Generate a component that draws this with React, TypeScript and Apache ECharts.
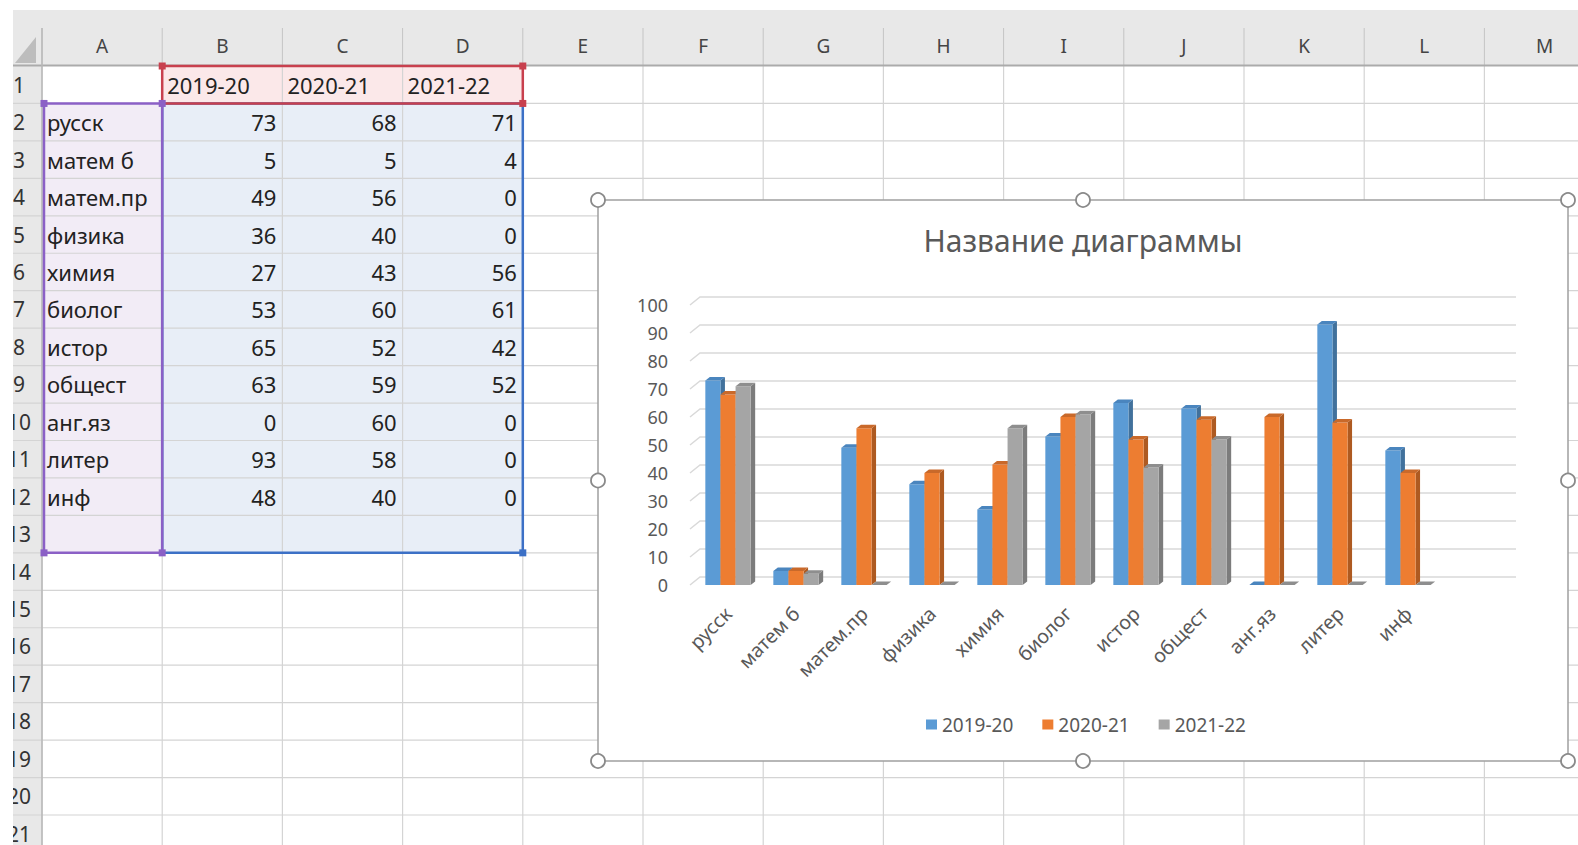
import React, { useEffect, useRef } from 'react';
import * as echarts from 'echarts';

// ---------- data ----------
const categories = ['русск', 'матем б', 'матем.пр', 'физика', 'химия', 'биолог', 'истор', 'общест', 'анг.яз', 'литер', 'инф'];
const seriesNames = ['2019-20', '2020-21', '2021-22'];
const values2019 = [73, 5, 49, 36, 27, 53, 65, 63, 0, 93, 48];
const values2020 = [68, 5, 56, 40, 43, 60, 52, 59, 60, 58, 40];
const values2021 = [71, 4, 0, 0, 56, 61, 42, 52, 0, 0, 0];
const yTicks = [0, 10, 20, 30, 40, 50, 60, 70, 80, 90, 100];
const columnLetters = ['A', 'B', 'C', 'D', 'E', 'F', 'G', 'H', 'I', 'J', 'K', 'L', 'M'];
const chartTitle = 'Название диаграммы';

const seriesValues = [values2019, values2020, values2021];

// ---------- styles ----------
const W = 1578;
const H = 845;
const ROW_H = 37.45;
const HEAD_B = 66;
const COL_X0 = 42;
const COL_W = 120.2;
const FONT = '"Noto Sans", "Open Sans", sans-serif';

const frontColors = ['#5B9BD5', '#ED7D31', '#A5A5A5'];
const sideColors = ['#41719C', '#AE5A21', '#7C7C7C'];
const topColors = ['#4A85BE', '#C9692A', '#8E8E8E'];

const colX = (k: number) => COL_X0 + k * COL_W;
const rowTop = (r: number) => HEAD_B + (r - 1) * ROW_H;

const CHART = { x: 598, y: 200, w: 970, h: 561 };

function sheetElements(): any[] {
  const els: any[] = [];
  const Z = -20;
  els.push({ type: 'rect', z: Z, shape: { x: 13, y: 10, width: W - 13, height: HEAD_B - 10 }, style: { fill: '#E8E8E8' } });
  els.push({ type: 'rect', z: Z, shape: { x: 13, y: HEAD_B, width: COL_X0 - 13, height: H - HEAD_B }, style: { fill: '#E8E8E8' } });
  els.push({ type: 'rect', z: Z, shape: { x: colX(1), y: rowTop(1), width: colX(4) - colX(1), height: ROW_H }, style: { fill: '#FBE8E9' } });
  els.push({ type: 'rect', z: Z, shape: { x: colX(0), y: rowTop(2), width: COL_W, height: rowTop(14) - rowTop(2) }, style: { fill: '#F2ECF6' } });
  els.push({ type: 'rect', z: Z, shape: { x: colX(1), y: rowTop(2), width: colX(4) - colX(1), height: rowTop(14) - rowTop(2) }, style: { fill: '#E8EEF7' } });
  for (let k = 0; k <= 13; k++) {
    els.push({ type: 'line', z: Z + 1, shape: { x1: colX(k), y1: 28, x2: colX(k), y2: HEAD_B }, style: { stroke: '#C4C4C4', lineWidth: 1 } });
    els.push({ type: 'line', z: Z + 1, shape: { x1: colX(k), y1: HEAD_B, x2: colX(k), y2: H }, style: { stroke: '#D4D4D4', lineWidth: 1.2 } });
  }
  for (let r = 2; r <= 23; r++) {
    els.push({ type: 'line', z: Z + 1, shape: { x1: 13, y1: rowTop(r), x2: W, y2: rowTop(r) }, style: { stroke: '#D4D4D4', lineWidth: 1.2 } });
  }
  els.push({ type: 'line', z: Z + 2, shape: { x1: 13, y1: HEAD_B - 0.5, x2: W, y2: HEAD_B - 0.5 }, style: { stroke: '#ABABAB', lineWidth: 2 } });
  els.push({ type: 'line', z: Z + 2, shape: { x1: COL_X0, y1: 28, x2: COL_X0, y2: H }, style: { stroke: '#B8B8B8', lineWidth: 1.5 } });
  els.push({ type: 'polygon', z: Z + 2, shape: { points: [[15, 63], [36, 37], [36, 63]] }, style: { fill: '#BDBDBD' } });
  columnLetters.forEach((c, k) => {
    els.push({ type: 'text', z: Z + 3, x: colX(k) + COL_W / 2, y: 46, style: { text: c, font: `19px ${FONT}`, fill: '#444444', align: 'center', verticalAlign: 'middle' } });
  });
  for (let r = 1; r <= 21; r++) {
    els.push({ type: 'text', z: Z + 3, x: 19, y: rowTop(r) + ROW_H / 2, style: { text: String(r), font: `21px ${FONT}`, fill: '#333333', align: 'center', verticalAlign: 'middle' } });
  }
  seriesNames.forEach((n, s) => {
    els.push({ type: 'text', z: Z + 3, x: colX(1 + s) + 5, y: rowTop(1) + ROW_H / 2, style: { text: n, font: `22px ${FONT}`, fill: '#222222', align: 'left', verticalAlign: 'middle' } });
  });
  categories.forEach((c, i) => {
    const yc = rowTop(2 + i) + ROW_H / 2;
    els.push({ type: 'text', z: Z + 3, x: colX(0) + 5, y: yc, style: { text: c, font: `22px ${FONT}`, fill: '#222222', align: 'left', verticalAlign: 'middle' } });
    seriesValues.forEach((vals, s) => {
      els.push({ type: 'text', z: Z + 3, x: colX(2 + s) - 6, y: yc, style: { text: String(vals[i]), font: `22px ${FONT}`, fill: '#222222', align: 'right', verticalAlign: 'middle' } });
    });
  });
  const box = (x1: number, y1: number, x2: number, y2: number, color: string) => {
    els.push({ type: 'polygon', z: Z + 4, shape: { points: [[x1, y1], [x2, y1], [x2, y2], [x1, y2]] }, style: { stroke: color, lineWidth: 2.5, fill: null } });
  };
  const handle = (x: number, y: number, color: string) => {
    els.push({ type: 'rect', z: Z + 5, shape: { x: x - 3.5, y: y - 3.5, width: 7, height: 7 }, style: { fill: color } });
  };
  const blue = '#3C70C6', purple = '#8B60C6', red = '#C8404E';
  box(colX(1), rowTop(2), colX(4), rowTop(14), blue);
  box(COL_X0 + 2, rowTop(2), colX(1), rowTop(14), purple);
  box(colX(1), rowTop(1), colX(4), rowTop(2), red);
  handle(colX(4), rowTop(14), blue);
  handle(colX(1), rowTop(14), purple);
  handle(COL_X0 + 2, rowTop(14), purple);
  handle(COL_X0 + 2, rowTop(2), purple);
  handle(colX(1), rowTop(2), purple);
  handle(colX(4), rowTop(2), red);
  handle(colX(1), rowTop(1), red);
  handle(colX(4), rowTop(1), red);
  els.push({ type: 'rect', z: Z + 6, shape: { x: 0, y: 0, width: 13, height: H }, style: { fill: '#FFFFFF' } });
  els.push({ type: 'rect', z: Z + 6, shape: { x: 0, y: 0, width: W, height: 10 }, style: { fill: '#FFFFFF' } });
  els.push({ type: 'rect', z: -5, shape: { x: CHART.x, y: CHART.y, width: CHART.w, height: CHART.h }, style: { fill: '#FFFFFF', stroke: '#A0A0A0', lineWidth: 1.5 } });
  const hx = [CHART.x, CHART.x + CHART.w / 2, CHART.x + CHART.w];
  const hy = [CHART.y, CHART.y + CHART.h / 2, CHART.y + CHART.h];
  hx.forEach((x, a) => hy.forEach((y, b) => {
    if (a === 1 && b === 1) return;
    els.push({ type: 'circle', z: 50, shape: { cx: x, cy: y, r: 7 }, style: { fill: '#FFFFFF', stroke: '#8A8A8A', lineWidth: 1.8 } });
  }));
  return els;
}

function barRenderer(s: number) {
  return (params: any, api: any) => {
    const i = api.value(0);
    const v = api.value(1);
    const base = api.coord([i, 0]);
    const top = api.coord([i, v]);
    const band = api.size([1, 0])[0];
    const bw = band / 4.5;
    const x0 = base[0] - 1.5 * bw + s * bw;
    const x1 = x0 + bw;
    const yb = base[1];
    const yt = top[1];
    const dx = 4.5;
    const dy = -3.5;
    return {
      type: 'group',
      children: [
        { type: 'polygon', shape: { points: [[x1, yt], [x1 + dx, yt + dy], [x1 + dx, yb + dy], [x1, yb]] }, style: { fill: sideColors[s] } },
        { type: 'rect', shape: { x: x0, y: yt, width: bw, height: yb - yt }, style: { fill: frontColors[s] } },
        { type: 'polygon', shape: { points: [[x0, yt], [x0 + dx, yt + dy], [x1 + dx, yt + dy], [x1, yt]] }, style: { fill: topColors[s] } },
      ],
    };
  };
}

export default function App() {
  const ref = useRef<HTMLDivElement>(null);
  useEffect(() => {
    if (!ref.current) return;
    const chart = echarts.init(ref.current, undefined, { renderer: 'svg' });
    const option: any = {
      animation: false,
      backgroundColor: '#FFFFFF',
      textStyle: { fontFamily: FONT },
      title: {
        text: chartTitle,
        left: 1078,
        top: 220,
        textAlign: 'center',
        textStyle: { fontSize: 30, fontWeight: 'normal', color: '#595959', fontFamily: FONT },
      },
      legend: {
        data: seriesNames,
        left: 921,
        top: 710,
        itemWidth: 11,
        itemHeight: 10,
        itemGap: 29,
        icon: 'rect',
        textStyle: { fontSize: 19, color: '#595959', fontFamily: FONT },
      },
      grid: { left: 694, top: 305, width: 816, height: 280, containLabel: false },
      xAxis: {
        type: 'category',
        data: [...categories, ''],
        boundaryGap: true,
        axisLine: { show: false },
        axisTick: { show: false },
        splitLine: { show: false },
        axisLabel: { interval: 0, rotate: 45, fontSize: 19.5, color: '#595959', margin: 25, fontFamily: FONT },
      },
      yAxis: {
        type: 'value',
        min: 0,
        max: 100,
        interval: 10,
        axisLine: { show: false },
        axisTick: { show: false },
        splitLine: { show: false },
        axisLabel: { fontSize: 18, color: '#595959', margin: 26, fontFamily: FONT },
      },
      graphic: { elements: sheetElements() },
      series: [
        {
          type: 'custom',
          name: 'gridlines',
          z: 1,
          silent: true,
          data: yTicks.map((t) => [0, t]),
          encode: { x: 0, y: 1 },
          renderItem: (params: any, api: any) => {
            const cs = params.coordSys;
            const p = api.coord([0, api.value(1)]);
            return {
              type: 'polyline',
              shape: { points: [[cs.x - 4, p[1]], [cs.x + 6, p[1] - 8], [cs.x + cs.width + 6, p[1] - 8]] },
              style: { stroke: '#D9D9D9', lineWidth: 1.5, fill: null },
            };
          },
        },
        ...seriesNames.map((name, s) => ({
          type: 'custom',
          name,
          z: 3,
          itemStyle: { color: frontColors[s] },
          data: seriesValues[s].map((v, i) => [i, v]),
          encode: { x: 0, y: 1 },
          renderItem: barRenderer(s),
        })),
      ],
    };
    chart.setOption(option);
    return () => chart.dispose();
  }, []);
  return <div ref={ref} style={{ position: 'fixed', left: 0, top: 0, width: W, height: H }} />;
}
